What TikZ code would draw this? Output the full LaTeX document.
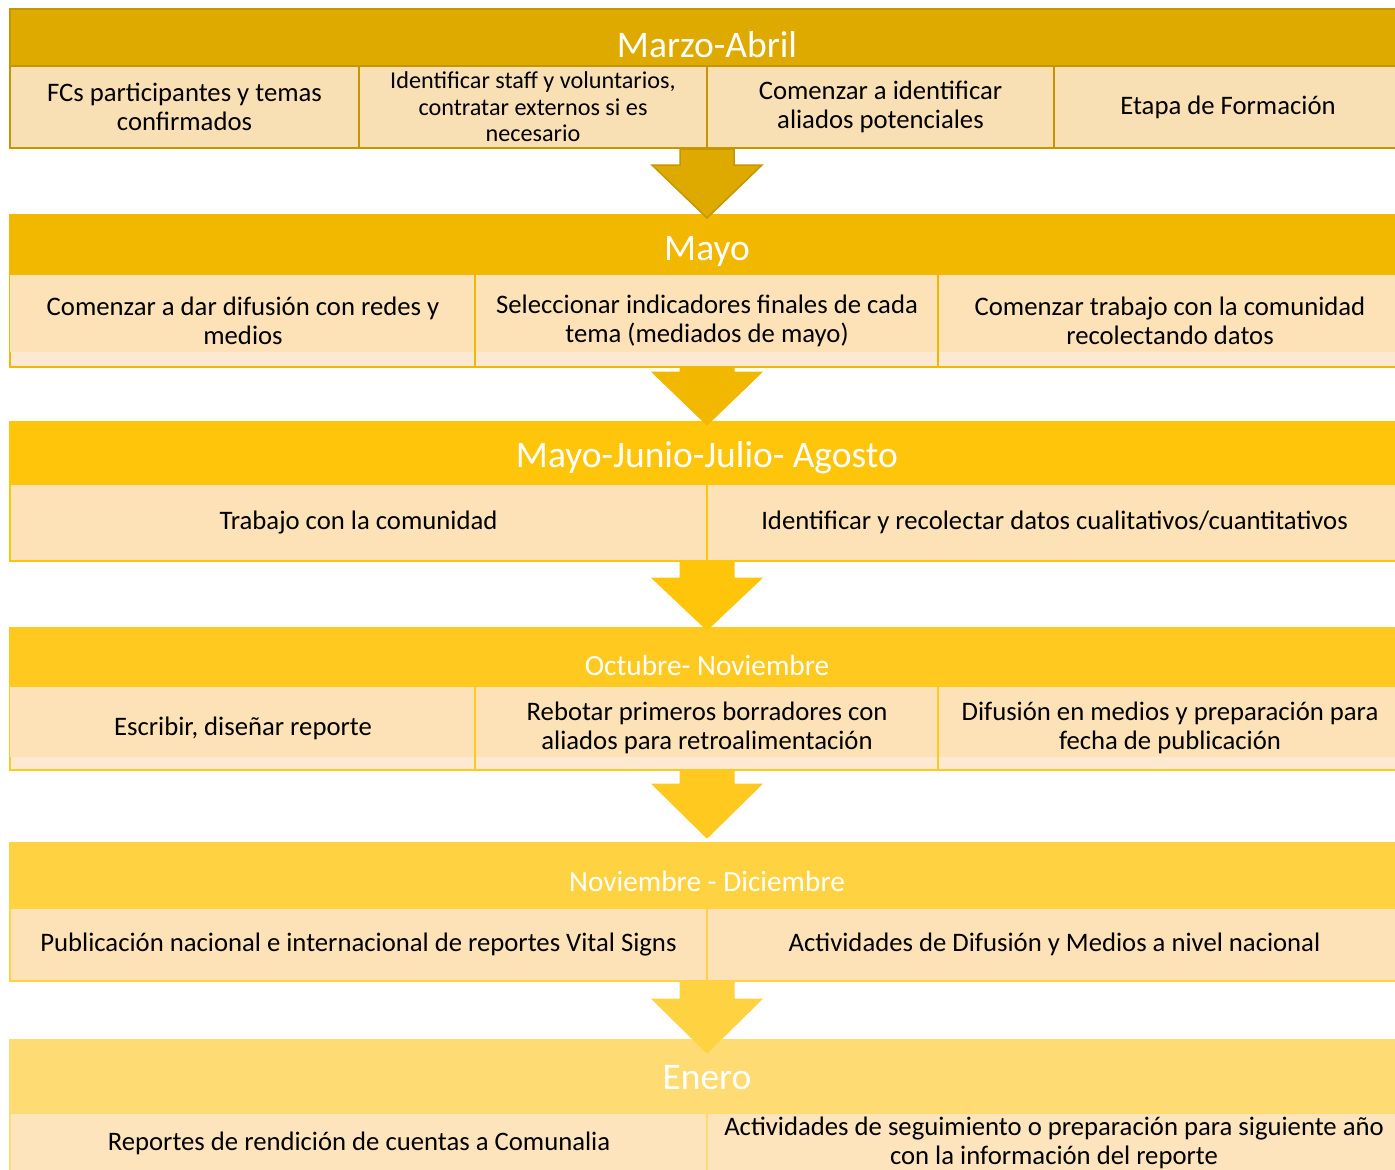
\documentclass[tikz,border=0pt]{standalone}
\usepackage{fontspec}
\setmainfont{Carlito}
\usetikzlibrary{calc}
\definecolor{hA}{HTML}{DFAA00}
\definecolor{bA}{HTML}{C49600}
\definecolor{hB}{HTML}{F2B800}
\definecolor{hC}{HTML}{FEC50A}
\definecolor{hD}{HTML}{FFC920}
\definecolor{hE}{HTML}{FFD242}
\definecolor{hF}{HTML}{FFDB73}
\definecolor{cA}{HTML}{F9E0B4}
\definecolor{cB}{HTML}{FCE2B6}
\definecolor{cL}{HTML}{FDE9D2}
\definecolor{cF}{HTML}{FDE4BC}
\newcommand\mkbox[7]{\node[#6, minimum width={#4-#2}, minimum height={#5-#3}] (#1) at ({(#2+#4)/2},{(#3+#5)/2}) {#7};}
\newcommand\blkarrow[4]{%
  \path[#3] let \p1=(#1), \p2=(#2) in
    (\x1-27pt,\y1) -- (\x1+27pt,\y1) -- (\x1+27pt,\y2+#4) -- (\x1+55pt,\y2+#4)
    -- (\x1,\y2) -- (\x1-55pt,\y2+#4) -- (\x1-27pt,\y2+#4) -- cycle;}
\tikzset{
  box/.style={rectangle, inner sep=0pt, outer sep=0pt, line width=2pt, align=center},
  hdr/.style={box, fill=#1, draw=#1},
  cell/.style={box, fill=#1, text=black, font=\fontsize{26.7}{29}\selectfont},
  htext/.style={text=white, inner sep=0pt, font=\fontsize{37.5}{40}\selectfont},
  hsmall/.style={text=white, inner sep=0pt, font=\fontsize{29.3}{32}\selectfont},
  arr/.style={fill=#1, draw=#1, line width=1pt}
}
\begin{document}
\begin{tikzpicture}[x=1pt,y=-1pt]
\useasboundingbox (0,0) rectangle (1395,1170);
\clip (0,0) rectangle (1395,1170);
% ---------- Block 1: Marzo-Abril
\mkbox{h1}{10}{9}{1402}{66}{hdr=hA, draw=bA}{}
\node[htext] (t1) at (707,45) {Marzo-Abril};
\mkbox{c11}{10}{66}{359}{148}{cell=cA, draw=bA}{FCs participantes y temas\\confirmados}
\mkbox{c12}{359}{66}{707}{148}{cell=cA, draw=bA, font=\fontsize{24.2}{26.5}\selectfont}{Identificar staff y voluntarios,\\contratar externos si es\\necesario}
\mkbox{c13}{707}{66}{1054}{148}{cell=cA, draw=bA}{Comenzar a identificar\\aliados potenciales}
\mkbox{c14}{1054}{66}{1402}{148}{cell=cA, draw=bA}{Etapa de Formación}
% ---------- Block 2: Mayo
\mkbox{h2}{10}{215}{1402}{275}{hdr=hB}{}
\mkbox{s2}{10}{275}{1402}{367}{box, fill=cL, draw=hB}{}
\node[htext] (t2) at (707,251) {Mayo};
\mkbox{c21}{10}{275}{475}{352}{cell=cB, draw=none}{}
\mkbox{c22}{475}{275}{938}{352}{cell=cB, draw=none}{}
\mkbox{c23}{938}{275}{1402}{352}{cell=cB, draw=none}{}
\draw[hB, line width=2pt] (c21.north east) -- (c21.north east |- s2.south) (c22.north east) -- (c22.north east |- s2.south);
\node[cell=cB, fill=none] (x21) at (243,321) {Comenzar a dar difusión con redes y\\medios};
\node[cell=cB, fill=none] (x22) at (707,321) {Seleccionar indicadores finales de cada\\tema (mediados de mayo)};
\node[cell=cB, fill=none] (x23) at (1170,321) {Comenzar trabajo con la comunidad\\recolectando datos};
% ---------- Block 3: Mayo-Junio-Julio- Agosto
\mkbox{h3}{10}{422}{1402}{484}{hdr=hC}{}
\node[htext] (t3) at (707,458) {Mayo-Junio-Julio- Agosto};
\mkbox{c31}{10}{484}{707}{561}{cell=cB, draw=hC}{Trabajo con la comunidad}
\mkbox{c32}{707}{484}{1402}{561}{cell=cB, draw=hC}{Identificar y recolectar datos cualitativos/cuantitativos}
% ---------- Block 4: Octubre- Noviembre
\mkbox{h4}{10}{628}{1402}{687}{hdr=hD}{}
\mkbox{s4}{10}{687}{1402}{770}{box, fill=cL, draw=hD}{}
\node[hsmall] (t4) at (707,665) {Octubre- Noviembre};
\mkbox{c41}{10}{687}{475}{757}{cell=cB, draw=none}{}
\mkbox{c42}{475}{687}{938}{757}{cell=cB, draw=none}{}
\mkbox{c43}{938}{687}{1402}{757}{cell=cB, draw=none}{}
\draw[hD, line width=2pt] (c41.north east) -- (c41.north east |- s4.south) (c42.north east) -- (c42.north east |- s4.south);
\node[cell=cB, fill=none] (x41) at (243,728) {Escribir, diseñar reporte};
\node[cell=cB, fill=none] (x42) at (707,728) {Rebotar primeros borradores con\\aliados para retroalimentación};
\node[cell=cB, fill=none] (x43) at (1170,728) {Difusión en medios y preparación para\\fecha de publicación};
% ---------- Block 5: Noviembre - Diciembre
\mkbox{h5}{10}{843}{1402}{908}{hdr=hE}{}
\node[hsmall] (t5) at (707,881) {Noviembre - Diciembre};
\mkbox{c51}{10}{908}{707}{981}{cell=cB, draw=hE}{Publicación nacional e internacional de reportes Vital Signs}
\mkbox{c52}{707}{908}{1402}{981}{cell=cB, draw=hE}{Actividades de Difusión y Medios a nivel nacional}
% ---------- Block 6: Enero
\mkbox{h6}{10}{1040}{1402}{1113}{hdr=hF}{}
\node[htext] (t6) at (707,1078) {Enero};
\mkbox{c61}{10}{1113}{707}{1175}{cell=cF, draw=hF}{}
\mkbox{c62}{707}{1113}{1402}{1175}{cell=cF, draw=hF}{}
\node[cell=cF, fill=none] (x61) at (359,1143) {Reportes de rendición de cuentas a Comunalia};
\node[cell=cF, fill=none] (x62) at (1054,1142.5) {Actividades de seguimiento o preparación para siguiente año\\con la información del reporte};
% ---------- arrows
\coordinate (a1s) at (707,149); \coordinate (a1e) at (707,218);
\coordinate (a2s) at (707,368); \coordinate (a2e) at (707,425);
\coordinate (a3s) at (707,562); \coordinate (a3e) at (707,630);
\coordinate (a4s) at (707,771); \coordinate (a4e) at (707,838);
\coordinate (a5s) at (707,982); \coordinate (a5e) at (707,1053);
\blkarrow{a1s}{a1e}{arr=hA, draw=bA, line width=1.5pt}{53pt}
\blkarrow{a2s}{a2e}{arr=hB}{53pt}
\blkarrow{a3s}{a3e}{arr=hC}{52pt}
\blkarrow{a4s}{a4e}{arr=hD}{54pt}
\blkarrow{a5s}{a5e}{arr=hE}{54pt}
\end{tikzpicture}
\end{document}
